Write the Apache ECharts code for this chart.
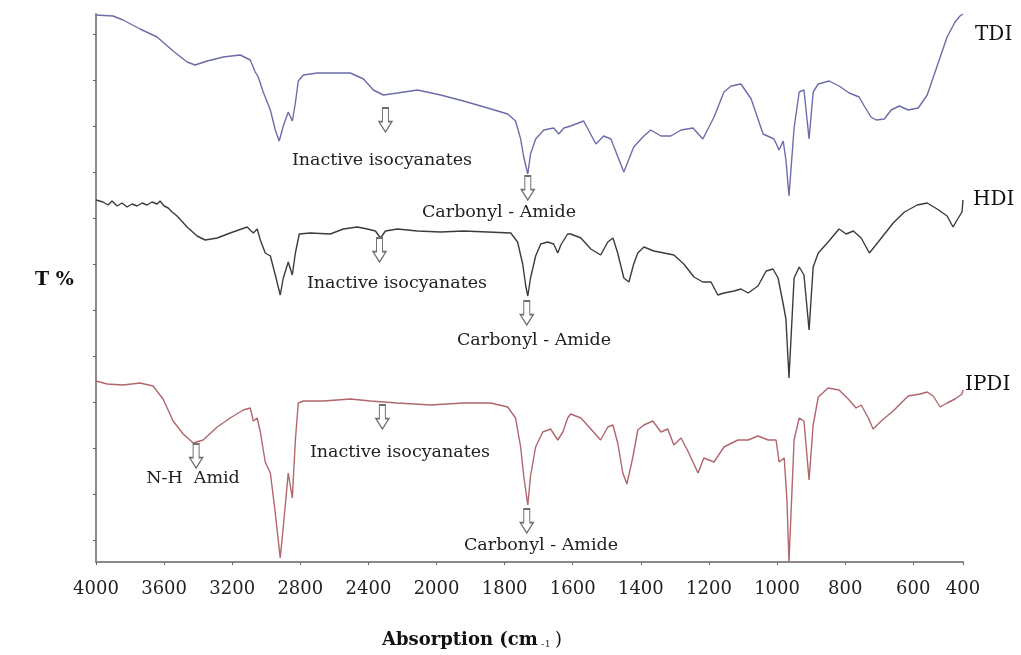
<!DOCTYPE html>
<html>
<head>
<meta charset="utf-8">
<script src="https://cdn.jsdelivr.net/npm/echarts@6/dist/echarts.min.js"></script>
<style>
  html, body { margin: 0; padding: 0; background: #fff; }
  #main { width: 1021px; height: 655px; }
</style>
</head>
<body>
<div id="main"></div>
<script>
// wavenumber tick labels and their slot on the (non linear) axis
var tickWaves = [4000, 3600, 3200, 2800, 2400, 2000, 1800, 1600, 1400, 1200, 1000, 800, 600, 400];
var tickSlots = [0, 1, 2, 3, 4, 5, 6, 7, 8, 9, 10, 11, 12, 12.73];
var yTicks = [22, 68, 114, 160, 206, 252, 298, 344, 390, 436, 482, 528];

// spectra: [wavenumber cm-1, T (a.u., stacked)]
var tdi = [[4000,547],[3900,546],[3841,542],[3741,533],[3641,525],[3547,511],[3465,500],[3418,497],[3347,501],[3253,505],[3153,507],[3094,502],[3065,490],[3047,485],[3018,470],[2976,452],[2947,432],[2924,421],[2900,436],[2871,450],[2847,441],[2829,459],[2812,481],[2782,487],[2700,489],[2624,489],[2506,489],[2429,483],[2371,472],[2312,467],[2229,469],[2112,472],[1988,467],[1921,461],[1850,454],[1791,448],[1768,441],[1753,423],[1744,405],[1732,388],[1724,408],[1709,423],[1685,432],[1656,434],[1641,428],[1626,434],[1606,436],[1568,441],[1532,418],[1509,426],[1488,423],[1450,390],[1421,415],[1394,425],[1371,432],[1341,426],[1312,426],[1282,432],[1247,434],[1218,423],[1185,445],[1156,470],[1135,476],[1106,478],[1076,463],[1041,428],[1009,423],[994,412],[982,421],[974,402],[965,366],[950,434],[935,470],[921,472],[906,423],[894,470],[879,478],[847,481],[818,476],[788,469],[759,465],[744,456],[724,445],[709,442],[685,443],[665,452],[641,456],[615,452],[580,454],[544,467],[504,496],[464,525],[432,540],[412,546],[400,548]];

var hdi = [[4000,362],[3959,360],[3929,357],[3906,361],[3876,356],[3847,359],[3818,355],[3788,358],[3759,356],[3729,359],[3700,357],[3671,360],[3641,358],[3624,361],[3600,356],[3576,354],[3553,350],[3524,346],[3465,335],[3406,326],[3359,322],[3288,324],[3212,329],[3112,335],[3076,329],[3053,333],[3035,322],[3006,309],[2976,306],[2947,287],[2918,267],[2900,284],[2871,300],[2847,287],[2829,309],[2806,328],[2741,329],[2624,328],[2547,333],[2465,335],[2406,333],[2359,331],[2329,324],[2300,331],[2229,333],[2112,331],[1988,330],[1921,331],[1850,330],[1782,329],[1762,320],[1747,298],[1738,276],[1732,266],[1724,284],[1709,306],[1694,318],[1674,320],[1656,318],[1644,309],[1635,317],[1615,328],[1606,328],[1576,324],[1547,313],[1518,307],[1497,320],[1482,324],[1468,309],[1450,284],[1435,280],[1421,298],[1409,309],[1391,315],[1362,311],[1332,309],[1303,307],[1274,298],[1244,285],[1218,280],[1194,280],[1174,267],[1156,269],[1126,271],[1106,273],[1085,269],[1056,276],[1032,291],[1012,293],[997,284],[982,258],[974,243],[965,184],[950,284],[935,295],[921,287],[906,232],[894,295],[879,309],[850,320],[818,333],[797,328],[776,331],[753,324],[729,309],[703,320],[659,339],[626,350],[584,357],[544,359],[504,353],[464,346],[440,335],[424,342],[404,350],[400,362]];

var ipdi = [[4000,181],[3935,178],[3841,177],[3741,179],[3665,176],[3606,163],[3547,141],[3488,128],[3429,119],[3371,122],[3288,135],[3212,144],[3135,152],[3094,154],[3076,141],[3053,144],[3035,130],[3006,100],[2976,89],[2947,49],[2918,4],[2900,35],[2871,89],[2847,64],[2829,122],[2812,159],[2782,161],[2665,161],[2506,163],[2388,161],[2229,159],[2035,157],[1921,159],[1841,159],[1791,155],[1768,144],[1753,115],[1744,86],[1732,57],[1724,86],[1709,115],[1688,130],[1665,133],[1644,122],[1629,130],[1615,144],[1606,148],[1576,144],[1547,133],[1518,122],[1497,135],[1482,137],[1468,119],[1453,89],[1441,78],[1424,104],[1409,132],[1391,137],[1365,141],[1341,130],[1321,133],[1303,117],[1282,124],[1262,111],[1232,89],[1215,104],[1185,100],[1156,115],[1115,122],[1085,122],[1056,126],[1026,122],[1003,122],[994,100],[979,104],[971,62],[965,0],[950,122],[935,144],[921,141],[906,82],[894,137],[879,165],[850,174],[818,172],[791,163],[768,154],[753,157],[732,144],[718,133],[694,141],[656,152],[615,166],[572,168],[544,170],[520,166],[492,155],[464,159],[432,163],[404,168],[400,172]];

// arrow marks [wavenumber, T]
var tdiArrows = [[2300, 442], [1732, 374]];
var hdiArrows = [[2335, 312], [1735, 249]];
var ipdiArrows = [[3412, 106], [2318, 145], [1735, 41]];

// piecewise-linear wavenumber -> axis slot
function slot(w) {
  for (var i = 0; i < tickWaves.length - 1; i++) {
    if (w >= tickWaves[i + 1]) {
      var t = (tickWaves[i] - w) / (tickWaves[i] - tickWaves[i + 1]);
      return tickSlots[i] + t * (tickSlots[i + 1] - tickSlots[i]);
    }
  }
  return tickSlots[tickSlots.length - 1];
}
function toXY(arr) { return arr.map(function (p) { return [slot(p[0]), p[1]]; }); }

var serif = '"DejaVu Serif", "Liberation Serif", serif';
var arrowPath = 'path://M3,0L9,0L9,13L12.5,13L6,23L-0.5,13L3,13Z';

function arrows(list) {
  return {
    symbol: arrowPath,
    symbolSize: [13, 24],
    symbolKeepAspect: false,
    itemStyle: { color: '#fff', borderColor: '#6e6e6e', borderWidth: 1.3 },
    label: { show: false },
    silent: true,
    data: list.map(function (p) { return { coord: [slot(p[0]), p[1]] }; })
  };
}

function line(name, data, color, marks) {
  return {
    name: name, type: 'line', data: toXY(data), showSymbol: false, smooth: false,
    lineStyle: { color: color, width: 1.4 }, z: 2,
    markPoint: arrows(marks)
  };
}

function note(text, x, y, font, fill, align) {
  return { type: 'text', x: x, y: y,
    style: { text: text, font: font, fill: fill, align: align || 'center', verticalAlign: 'middle' } };
}

var chart = echarts.init(document.getElementById('main'));
chart.setOption({
  animation: false,
  grid: { left: 96, right: 58, top: 14, bottom: 93 },
  xAxis: {
    type: 'value', min: 0, max: tickSlots[tickSlots.length - 1],
    splitLine: { show: false },
    axisLine: { lineStyle: { color: '#8a8a8a', width: 2 } },
    axisTick: { show: true, length: 3, customValues: tickSlots, lineStyle: { color: '#666' } },
    axisLabel: {
      customValues: tickSlots, margin: 18,
      fontFamily: serif, fontSize: 18, color: '#222',
      formatter: function (v) {
        var i = tickSlots.indexOf(v);
        return i >= 0 ? String(tickWaves[i]) : '';
      }
    }
  },
  yAxis: {
    type: 'value', min: 0, max: 548,
    splitLine: { show: false },
    axisLine: { show: true, lineStyle: { color: '#8a8a8a', width: 2 } },
    axisTick: { show: true, length: 3, customValues: yTicks, lineStyle: { color: '#666' } },
    axisLabel: { show: false }
  },
  series: [
    line('TDI', tdi, '#6c6cab', tdiArrows),
    line('HDI', hdi, '#3c3c3c', hdiArrows),
    line('IPDI', ipdi, '#b0666c', ipdiArrows)
  ],
  graphic: [
    note('TDI', 975, 35, '20px ' + serif, '#111', 'left'),
    note('HDI', 973, 200, '20px ' + serif, '#111', 'left'),
    note('IPDI', 965, 385, '20px ' + serif, '#111', 'left'),
    note('Inactive isocyanates', 382, 160, '17.5px ' + serif, '#222'),
    note('Inactive isocyanates', 397, 283, '17.5px ' + serif, '#222'),
    note('Inactive isocyanates', 400, 452, '17.5px ' + serif, '#222'),
    note('Carbonyl - Amide', 499, 212, '17.5px ' + serif, '#222'),
    note('Carbonyl - Amide', 534, 340, '17.5px ' + serif, '#222'),
    note('Carbonyl - Amide', 541, 545, '17.5px ' + serif, '#222'),
    note('N-H  Amid', 193, 478, '17.5px ' + serif, '#222'),
    note('T %', 35, 280, 'bold 19px ' + serif, '#111', 'left'),
    note('Absorption (cm', 382, 640, 'bold 18px ' + serif, '#111', 'left'),
    note('-1', 541, 644, '10px ' + serif, '#333', 'left'),
    note(')', 555, 640, '18px ' + serif, '#111', 'left')
  ]
});
</script>
</body>
</html>
